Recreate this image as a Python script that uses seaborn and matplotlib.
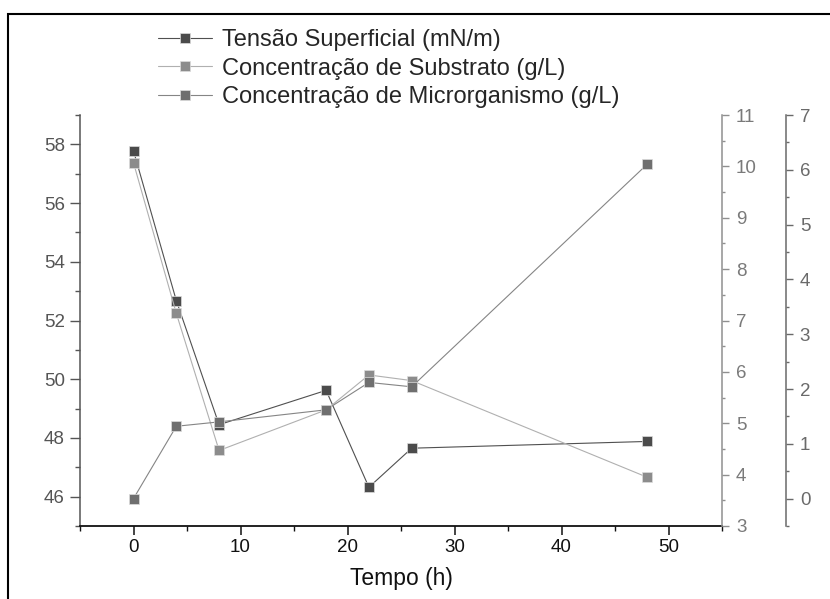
import matplotlib
matplotlib.use("Agg")
import matplotlib.pyplot as plt
import matplotlib.patches as patches
from matplotlib.ticker import MultipleLocator
import seaborn as sns
import pandas as pd

# ---- data ----
tempo = [0, 4, 8, 18, 22, 26, 48]
tensao = [57.78, 52.68, 48.45, 49.62, 46.32, 47.65, 47.88]
substrato = [10.07, 7.14, 4.47, 5.26, 5.94, 5.83, 3.95]
microrganismo = [0.0, 1.32, 1.40, 1.62, 2.12, 2.04, 6.10]

labels = ["Tensão Superficial (mN/m)",
          "Concentração de Substrato (g/L)",
          "Concentração de Microrganismo (g/L)"]

df = pd.DataFrame({"Tempo": tempo, "Tensao": tensao,
                   "Substrato": substrato, "Micro": microrganismo})

sns.set_theme(style="ticks")
plt.rcParams["font.family"] = ["Liberation Sans", "DejaVu Sans"]

fig = plt.figure(figsize=(8.3, 5.99), dpi=100)
ax = fig.add_axes([80/830, 1-526/599, (722-80)/830, (526-115)/599])
ax2 = ax.twinx()
ax3 = ax.twinx()

mcol = ["#4b4b4b", "#8c8c8c", "#6f6f6f"]
lcol = ["#505050", "#b0b0b0", "#858585"]

sns.lineplot(data=df, x="Tempo", y="Tensao", ax=ax, marker="s", markersize=7.5,
             color=lcol[0], markerfacecolor=mcol[0], markeredgecolor="#dddddd",
             markeredgewidth=0.5, linewidth=0.8, legend=False)
sns.lineplot(data=df, x="Tempo", y="Substrato", ax=ax2, marker="s", markersize=7.5,
             color=lcol[1], markerfacecolor=mcol[1], markeredgecolor="#dddddd",
             markeredgewidth=0.5, linewidth=0.8, legend=False)
sns.lineplot(data=df, x="Tempo", y="Micro", ax=ax3, marker="s", markersize=7.5,
             color=lcol[2], markerfacecolor=mcol[2], markeredgecolor="#dddddd",
             markeredgewidth=0.5, linewidth=0.8, legend=False)

# axis limits
ax.set_xlim(-5, 55)
ax.set_ylim(45, 59)
ax2.set_ylim(3, 11)
ax3.set_ylim(-0.5, 7)

# spines
for a in (ax, ax2, ax3):
    a.spines["top"].set_visible(False)
ax.spines["right"].set_visible(False)
ax2.spines["left"].set_visible(False)
ax3.spines["left"].set_visible(False)
ax2.spines["bottom"].set_visible(False)
ax3.spines["bottom"].set_visible(False)
ax3.spines["right"].set_position(("outward", 46))

ax.spines["bottom"].set_color("#111111")
ax.spines["bottom"].set_linewidth(1.3)
ax.spines["left"].set_color("#555555")
ax.spines["left"].set_linewidth(1.1)
ax2.spines["right"].set_color("#8f8f8f")
ax2.spines["right"].set_linewidth(1.1)
ax3.spines["right"].set_color("#6a6a6a")
ax3.spines["right"].set_linewidth(1.1)

# ticks
ax.xaxis.set_major_locator(MultipleLocator(10))
ax.xaxis.set_minor_locator(MultipleLocator(5))
ax.yaxis.set_major_locator(MultipleLocator(2))
ax.yaxis.set_minor_locator(MultipleLocator(1))
ax2.yaxis.set_major_locator(MultipleLocator(1))
ax2.yaxis.set_minor_locator(MultipleLocator(0.5))
ax3.yaxis.set_major_locator(MultipleLocator(1))
ax3.yaxis.set_minor_locator(MultipleLocator(0.5))

ax.tick_params(axis="x", which="major", direction="out", length=6.5, width=1.1,
               color="#111111", labelcolor="#111111", labelsize=13.5, pad=3)
ax.tick_params(axis="x", which="minor", direction="out", length=3.5, width=1.0,
               color="#111111", bottom=True)
ax.tick_params(axis="y", which="major", direction="out", length=7, width=1.0,
               color="#555555", labelcolor="#555555", labelsize=13.5, pad=4)
ax.tick_params(axis="y", which="minor", direction="out", length=3.5, width=1.0,
               color="#555555", left=True)
ax2.tick_params(axis="y", which="major", direction="out", length=5, width=1.0,
                color="#8f8f8f", labelcolor="#7a7a7a", labelsize=13.5, pad=5)
ax2.tick_params(axis="y", which="minor", direction="out", length=2.5, width=1.0,
                color="#8f8f8f", right=True)
ax3.tick_params(axis="y", which="major", direction="out", length=5, width=1.0,
                color="#6a6a6a", labelcolor="#6a6a6a", labelsize=13.5, pad=5)
ax3.tick_params(axis="y", which="minor", direction="out", length=2.5, width=1.0,
                color="#6a6a6a", right=True)

ax.set_xlabel("Tempo (h)", fontsize=16.5, color="#111111", labelpad=8)
ax.set_ylabel("")
ax2.set_ylabel("")
ax3.set_ylabel("")
for a in (ax, ax2, ax3):
    a.grid(False)
    a.set_facecolor("none")

# legend
handles = [ax.get_lines()[0], ax2.get_lines()[0], ax3.get_lines()[0]]
fig.legend(handles, labels, loc="upper left", bbox_to_anchor=(158/830, 1-29/599),
           frameon=False, fontsize=17, handlelength=2.3, handletextpad=0.4,
           labelspacing=0.28, borderpad=0, borderaxespad=0)

# outer frame
fig.patches.append(patches.Rectangle((8/830, -0.2), 1.5, 1.2 - 14/599,
                                     transform=fig.transFigure, fill=False,
                                     edgecolor="black", linewidth=1.5, clip_on=False))

fig.savefig("out.png", dpi=100)
